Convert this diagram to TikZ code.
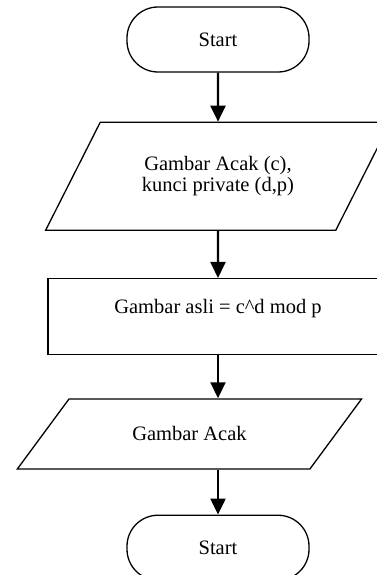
\documentclass[tikz,border=0pt]{standalone}
\usepackage{fontspec}
\setmainfont{Liberation Serif}
\usetikzlibrary{arrows.meta,positioning,shapes.geometric}

\begin{document}
\begin{tikzpicture}[
  x=1pt, y=1pt,
  >={Triangle[width=15pt,length=16pt]},
  font=\fontsize{20.5}{21}\selectfont,
  term/.style={draw, line width=1.3pt, rounded corners=31pt,
               minimum width=182pt, minimum height=65pt},
  io/.style={draw, line width=1.3pt, trapezium, trapezium stretches=true,
             minimum width=345pt, align=center},
  proc/.style={draw, line width=1.3pt, minimum width=340pt,
               minimum height=76pt, align=center},
  arr/.style={->, line width=2.2pt},
]
\useasboundingbox (0,0) rectangle (377,-575);
\clip (0,0) rectangle (377,-575);

% Start
\node[term] (start) at (218,-39.5) {Start};

% Input
\node[io, minimum height=108pt, trapezium left angle=51.5,
      trapezium right angle=128.5, below=49pt of start] (input)
      {Gambar Acak (c),\\kunci private (d,p)};

% Decrypt
\node[proc, below=47pt of input] (decrypt)
      {Gambar asli = c\textasciicircum d mod p\\ ~};

% Output
\node[io, minimum height=70pt, trapezium left angle=39.1,
      trapezium right angle=140.9, below=43pt of decrypt, xshift=-28.5pt]
      (output) {Gambar Acak};

% End
\node[term, below=45pt of output, xshift=28.5pt] (finish) {Start};

\draw[arr] (start) -- (input);
\draw[arr] (input) -- (decrypt);
\draw[arr] (decrypt.south) -- (decrypt.south |- output.north);
\draw[arr] (output.south -| finish.north) -- (finish.north);

\end{tikzpicture}
\end{document}
